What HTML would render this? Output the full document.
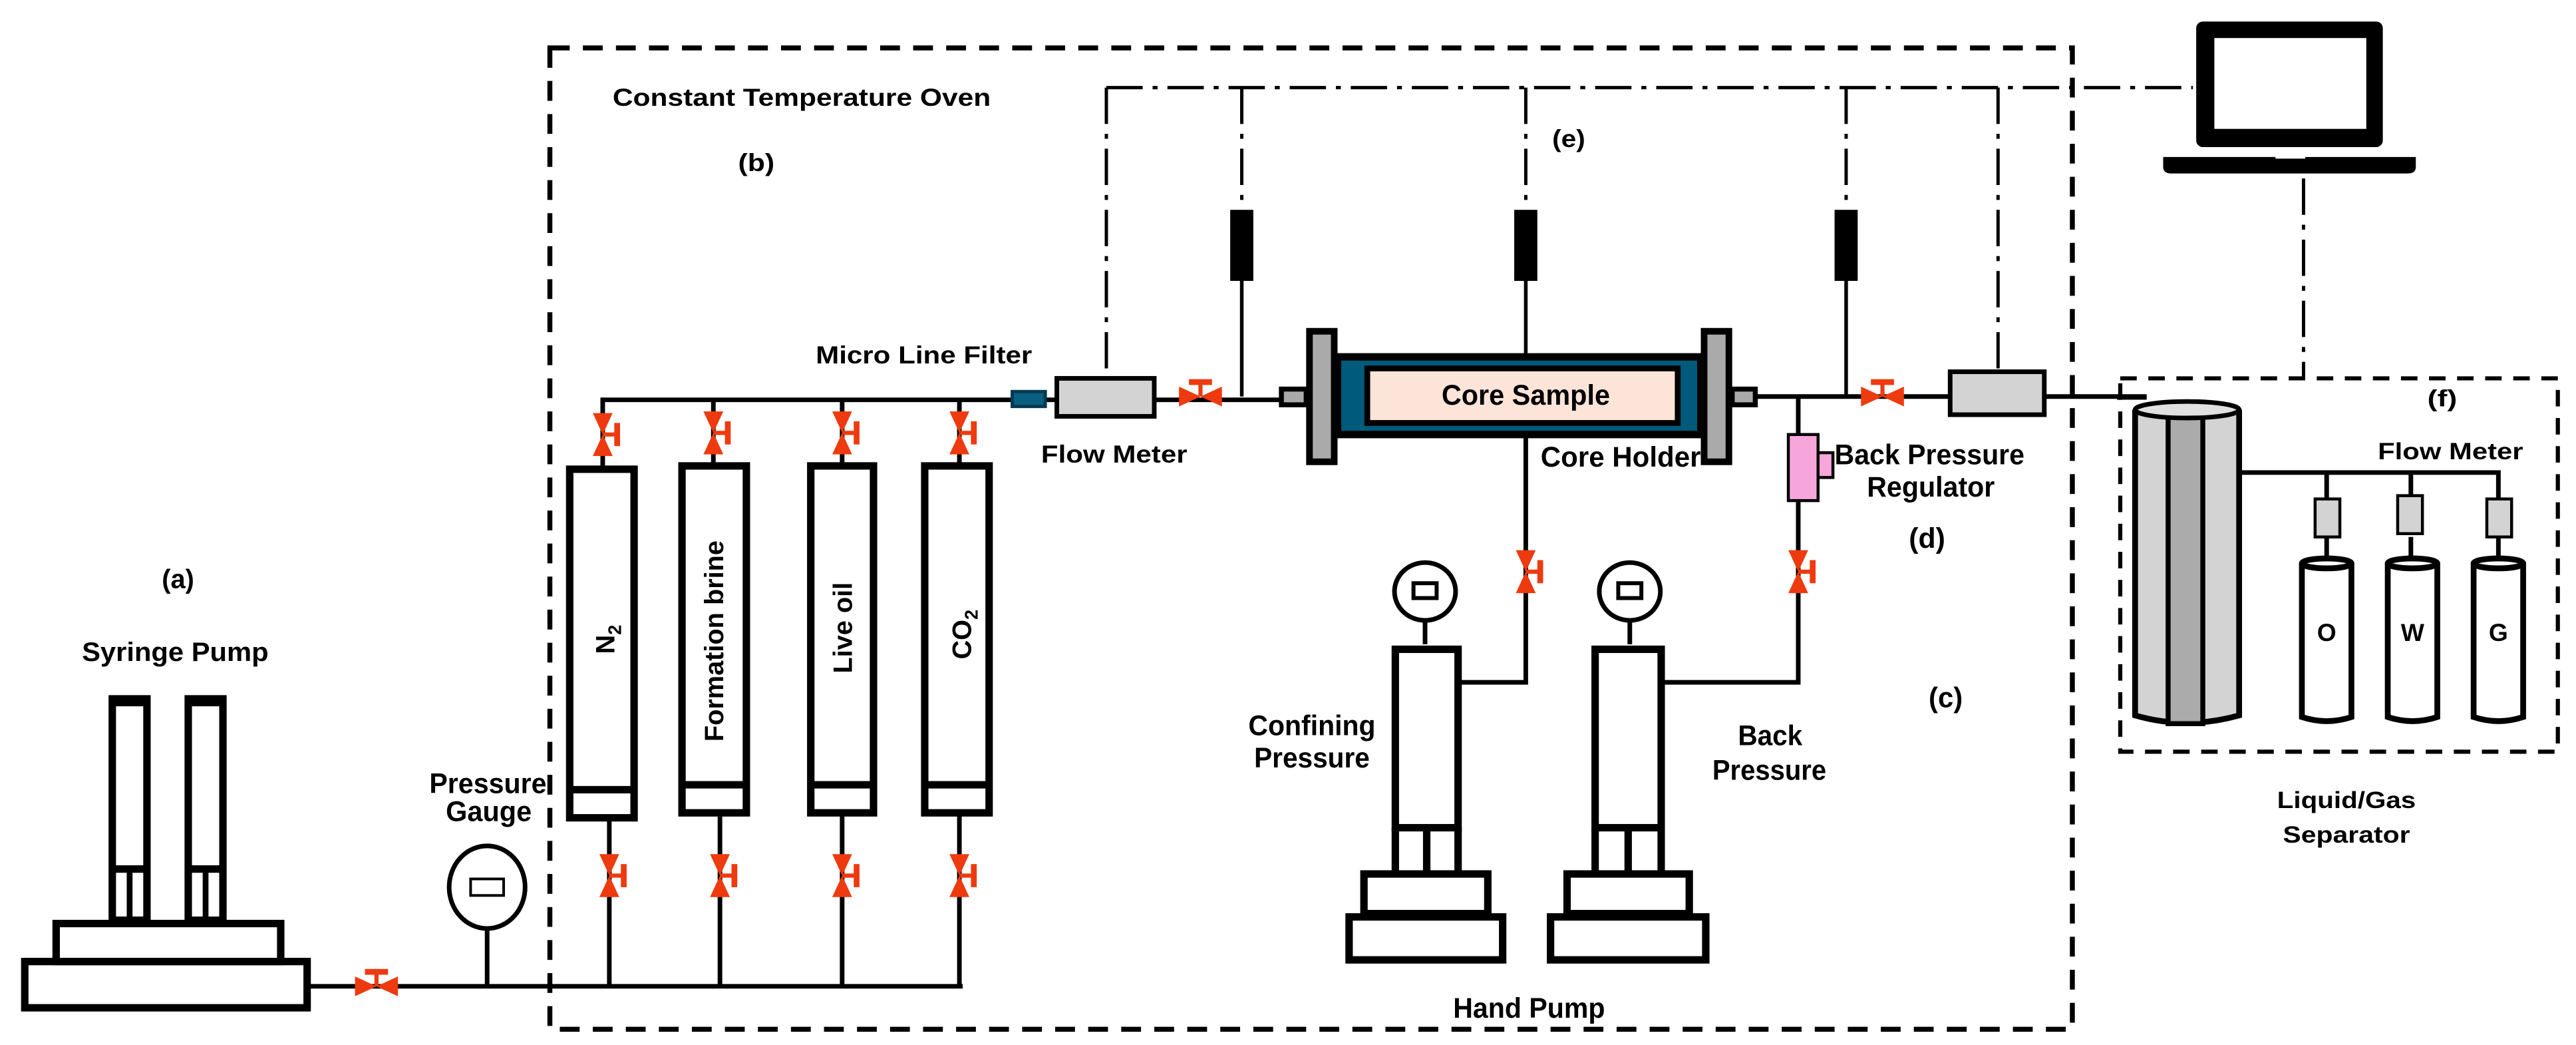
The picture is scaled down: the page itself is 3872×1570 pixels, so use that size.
<!DOCTYPE html>
<html><head><meta charset="utf-8"><style>
html,body{margin:0;padding:0;background:#fff;}
svg{display:block;}
text{font-family:"Liberation Sans",sans-serif;font-weight:bold;fill:#000;}
</style></head><body>
<svg width="3872" height="1570" viewBox="0 0 1560 632.5" xmlns="http://www.w3.org/2000/svg">
<defs>
<g id="vv">
<polygon points="-6,-13 6,-13 0,0" fill="#ee3a0f"/>
<polygon points="-6,13 6,13 0,0" fill="#ee3a0f"/>
<line x1="0" y1="0" x2="8" y2="0" stroke="#ee3a0f" stroke-width="2.5"/>
<rect x="7" y="-7" width="3.5" height="14" fill="#ee3a0f"/>
</g>
<g id="hv"><use href="#vv" transform="rotate(-90)"/></g>
</defs>
<rect width="1560" height="632.5" fill="#fff"/>

<!-- Oven dashed box -->
<rect x="333" y="29" width="922" height="594" fill="none" stroke="#000" stroke-width="3" stroke-dasharray="12,8"/>
<!-- separator dashed box -->
<rect x="1284" y="229" width="265" height="226" fill="none" stroke="#000" stroke-width="2.5" stroke-dasharray="10,7"/>

<!-- dash-dot control lines -->
<g fill="none" stroke="#000" stroke-width="2" stroke-dasharray="22,6,3,6">
<path d="M670,53 H1328"/>
<path d="M670,53 V228"/>
<path d="M752,53 V127"/>
<path d="M924,53 V127"/>
<path d="M1118,53 V127"/>
<path d="M1210,53 V224"/>
<path d="M1395,108 V229"/>
</g>

<!-- transducers -->
<g fill="#000">
<rect x="745" y="127" width="14" height="43"/>
<rect x="917" y="127" width="14" height="43"/>
<rect x="1111" y="127" width="14" height="43"/>
</g>
<g stroke="#000" stroke-width="2.2" fill="none">
<path d="M752,170 V240"/>
<path d="M924,170 V214"/>
<path d="M1118,170 V240"/>
</g>

<!-- pipes -->
<g stroke="#000" stroke-width="2.8" fill="none">
<path d="M365,262 V242 H776"/>
<path d="M432,262 V242"/><path d="M510,262 V242"/><path d="M581,262 V242"/>
<path d="M365,262 V282"/><path d="M432,262 V280"/><path d="M510,262 V280"/><path d="M581,262 V280"/>
<path d="M1063,240 H1300"/>
<path d="M369,497 V597"/><path d="M436,494 V597"/><path d="M510,494 V597"/><path d="M581,494 V597"/>
<path d="M188,597 H583"/>
<path d="M295,562 V597"/>
<path d="M924,265 V413 H885"/>
<path d="M1089,240 V263"/><path d="M1089,303 V413 H1008"/>
<path d="M863,375 V390"/><path d="M987,375 V390"/>
<path d="M1356,286 H1513 V302"/><path d="M1409,286 V302"/><path d="M1460,286 V302"/>
<path d="M1409,325 V337"/><path d="M1460,325 V337"/><path d="M1513,325 V337"/>
</g>

<!-- micro filter -->
<rect x="613" y="237" width="20" height="9" fill="#0b5f80" stroke="#033a52" stroke-width="2"/>
<!-- flow meters -->
<rect x="640" y="229" width="59" height="23" fill="#d3d3d3" stroke="#000" stroke-width="2.8"/>
<rect x="1181" y="225" width="57" height="26" fill="#d3d3d3" stroke="#000" stroke-width="2.8"/>

<!-- Core holder -->
<rect x="776" y="235.5" width="15" height="9.5" fill="#aaa" stroke="#000" stroke-width="3"/>
<rect x="1049" y="235.5" width="14" height="9.5" fill="#aaa" stroke="#000" stroke-width="3"/>
<rect x="810" y="216" width="220" height="47" fill="#005a7c" stroke="#000" stroke-width="4.5"/>
<rect x="828" y="223" width="188" height="33" fill="#fde4d8" stroke="#000" stroke-width="3.5"/>
<text x="873" y="245" font-size="17" textLength="102" lengthAdjust="spacingAndGlyphs">Core Sample</text>
<rect x="793" y="200.5" width="15" height="79" fill="#aaa" stroke="#000" stroke-width="4"/>
<rect x="1032" y="200.5" width="15" height="79" fill="#aaa" stroke="#000" stroke-width="4"/>

<!-- BPR -->
<rect x="1083" y="263" width="18" height="40" fill="#f7a6dc" stroke="#000" stroke-width="1.8"/>
<rect x="1101" y="274" width="9" height="15" fill="#f7a6dc" stroke="#000" stroke-width="1.8"/>

<!-- valves -->
<use href="#vv" x="365" y="263"/><use href="#vv" x="432" y="262"/><use href="#vv" x="510" y="262"/><use href="#vv" x="581" y="262"/>
<use href="#vv" x="369" y="530"/><use href="#vv" x="436" y="530"/><use href="#vv" x="510" y="530"/><use href="#vv" x="581" y="530"/>
<use href="#hv" x="228" y="597"/>
<use href="#hv" x="727" y="240"/>
<use href="#hv" x="1140" y="240"/>
<use href="#vv" x="924" y="346"/>
<use href="#vv" x="1089" y="346"/>

<!-- gas/liquid cylinders -->
<g fill="#fff" stroke="#000" stroke-width="4.5">
<rect x="345" y="284" width="39" height="211"/>
<rect x="413" y="282" width="39" height="210"/>
<rect x="491" y="282" width="38" height="210"/>
<rect x="560" y="282" width="39" height="210"/>
</g>
<g stroke="#000" stroke-width="4.5">
<line x1="345" y1="478" x2="384" y2="478"/>
<line x1="413" y1="475" x2="452" y2="475"/>
<line x1="491" y1="475" x2="529" y2="475"/>
<line x1="560" y1="475" x2="599" y2="475"/>
</g>
<text transform="translate(372,387) rotate(-90)" font-size="16" text-anchor="middle">N<tspan font-size="11" dy="4">2</tspan></text>
<text transform="translate(438,388) rotate(-90)" font-size="16" text-anchor="middle">Formation brine</text>
<text transform="translate(516,380) rotate(-90)" font-size="16" text-anchor="middle">Live oil</text>
<text transform="translate(588,384) rotate(-90)" font-size="16" text-anchor="middle">CO<tspan font-size="11" dy="4">2</tspan></text>

<!-- pressure gauge -->
<ellipse cx="295" cy="537" rx="23" ry="25" fill="#fff" stroke="#000" stroke-width="2.8"/>
<rect x="285" y="532" width="20" height="10" fill="#fff" stroke="#000" stroke-width="1.6"/>

<!-- syringe pump -->
<g fill="#fff" stroke="#000" stroke-width="4.5">
<rect x="15" y="582" width="171" height="28"/>
<rect x="34" y="559" width="136" height="23"/>
<rect x="68" y="423" width="21" height="134"/>
<rect x="114" y="423" width="21" height="134"/>
</g>
<g stroke="#000">
<line x1="68" y1="425" x2="89" y2="425" stroke-width="5"/>
<line x1="114" y1="425" x2="135" y2="425" stroke-width="5"/>
<line x1="68" y1="526" x2="89" y2="526" stroke-width="4.5"/>
<line x1="114" y1="526" x2="135" y2="526" stroke-width="4.5"/>
<line x1="78.5" y1="526" x2="78.5" y2="557" stroke-width="3.5"/>
<line x1="124.5" y1="526" x2="124.5" y2="557" stroke-width="3.5"/>
</g>

<!-- hand pumps -->
<g fill="#fff" stroke="#000" stroke-width="4.5">
<rect x="845" y="393" width="38" height="108"/>
<rect x="826" y="529" width="75" height="24"/>
<rect x="817" y="555" width="93" height="26"/>
<rect x="966" y="393" width="40" height="108"/>
<rect x="949" y="529" width="74" height="24"/>
<rect x="939" y="555" width="94" height="26"/>
</g>
<g stroke="#000" stroke-width="4.5">
<line x1="845" y1="501" x2="845" y2="529"/><line x1="883" y1="501" x2="883" y2="529"/><line x1="864" y1="501" x2="864" y2="529"/>
<line x1="966" y1="501" x2="966" y2="529"/><line x1="1006" y1="501" x2="1006" y2="529"/><line x1="986" y1="501" x2="986" y2="529"/>
</g>
<ellipse cx="863" cy="358" rx="18.5" ry="17.5" fill="#fff" stroke="#000" stroke-width="2.8"/>
<rect x="856" y="353" width="14" height="9" fill="#fff" stroke="#000" stroke-width="2.4"/>
<ellipse cx="987" cy="358" rx="18.5" ry="17.5" fill="#fff" stroke="#000" stroke-width="2.8"/>
<rect x="980" y="353" width="14" height="9" fill="#fff" stroke="#000" stroke-width="2.4"/>

<!-- laptop -->
<rect x="1330" y="13" width="113" height="76" rx="4" fill="#000"/>
<rect x="1341" y="23" width="92" height="55" fill="#fff"/>
<path d="M1310,95 H1463 V101 Q1463,105 1458,105 H1315 Q1310,105 1310,101 Z" fill="#000"/>
<rect x="1378" y="94" width="18" height="2" fill="#fff"/>

<!-- separator -->
<path d="M1293,248 V433 Q1324,442 1356,433 V248" fill="#d3d3d3" stroke="#000" stroke-width="3.5"/>
<rect x="1313" y="250" width="21" height="188" fill="#ababab" stroke="#000" stroke-width="3"/>
<ellipse cx="1324.5" cy="248" rx="31.5" ry="5" fill="#e0e0e0" stroke="#000" stroke-width="2.8"/>
<path d="M1282,240.5 H1300" stroke="#000" stroke-width="2.8"/>
<g fill="#d3d3d3" stroke="#000" stroke-width="1.8">
<rect x="1402" y="302" width="15" height="23"/>
<rect x="1452" y="300" width="15" height="23"/>
<rect x="1506" y="302" width="15" height="23"/>
</g>
<g fill="#fff" stroke="#000" stroke-width="3.5">
<path d="M1394,341 V434 Q1409,439 1424,434 V341"/>
<path d="M1446,341 V434 Q1461,439 1476,434 V341"/>
<path d="M1498,341 V434 Q1513,439 1528,434 V341"/>
<ellipse cx="1409" cy="341" rx="15" ry="3"/>
<ellipse cx="1461" cy="341" rx="15" ry="3"/>
<ellipse cx="1513" cy="341" rx="15" ry="3"/>
</g>
<text x="1409" y="388" font-size="15" text-anchor="middle">O</text>
<text x="1461" y="388" font-size="15" text-anchor="middle">W</text>
<text x="1513" y="388" font-size="15" text-anchor="middle">G</text>
<text x="1470" y="246" font-size="14" textLength="18" lengthAdjust="spacingAndGlyphs">(f)</text>
<text x="1440" y="278" font-size="14" textLength="88" lengthAdjust="spacingAndGlyphs">Flow Meter</text>
<text x="1379" y="489" font-size="14" textLength="84" lengthAdjust="spacingAndGlyphs">Liquid/Gas</text>
<text x="1382.5" y="510" font-size="14" textLength="77" lengthAdjust="spacingAndGlyphs">Separator</text>

<!-- labels -->
<g font-size="15" style="font-family:'Liberation Sans',sans-serif">
<text x="371" y="64" textLength="229" lengthAdjust="spacingAndGlyphs">Constant Temperature Oven</text>
<text x="447" y="103.5" textLength="22" lengthAdjust="spacingAndGlyphs">(b)</text>
<text x="940" y="89" textLength="20" lengthAdjust="spacingAndGlyphs">(e)</text>
<text x="494" y="220" textLength="131" lengthAdjust="spacingAndGlyphs">Micro Line Filter</text>
<text x="630.5" y="280" textLength="88.5" lengthAdjust="spacingAndGlyphs">Flow Meter</text>
<text x="98" y="356" font-size="16" textLength="19.6" lengthAdjust="spacingAndGlyphs">(a)</text>
<text x="49.6" y="400" font-size="16" textLength="113" lengthAdjust="spacingAndGlyphs">Syringe Pump</text>
<text x="260" y="480" font-size="17" textLength="71" lengthAdjust="spacingAndGlyphs">Pressure</text>
<text x="270" y="497" font-size="17" textLength="52" lengthAdjust="spacingAndGlyphs">Gauge</text>
<text x="933" y="282.5" font-size="17" textLength="97" lengthAdjust="spacingAndGlyphs">Core Holder</text>
<text x="1111" y="281" font-size="17" textLength="115" lengthAdjust="spacingAndGlyphs">Back Pressure</text>
<text x="1130.6" y="300.6" font-size="17" textLength="77.4" lengthAdjust="spacingAndGlyphs">Regulator</text>
<text x="1156" y="331.6" font-size="17" textLength="22" lengthAdjust="spacingAndGlyphs">(d)</text>
<text x="1168" y="428" font-size="17" textLength="20.6" lengthAdjust="spacingAndGlyphs">(c)</text>
<text x="756" y="445" font-size="17" textLength="77" lengthAdjust="spacingAndGlyphs">Confining</text>
<text x="759.5" y="464.5" font-size="17" textLength="70" lengthAdjust="spacingAndGlyphs">Pressure</text>
<text x="1052.5" y="451" font-size="17" textLength="39" lengthAdjust="spacingAndGlyphs">Back</text>
<text x="1037" y="472" font-size="17" textLength="69" lengthAdjust="spacingAndGlyphs">Pressure</text>
<text x="880" y="616" font-size="17" textLength="92" lengthAdjust="spacingAndGlyphs">Hand Pump</text>
</g>
</svg>
</body></html>
